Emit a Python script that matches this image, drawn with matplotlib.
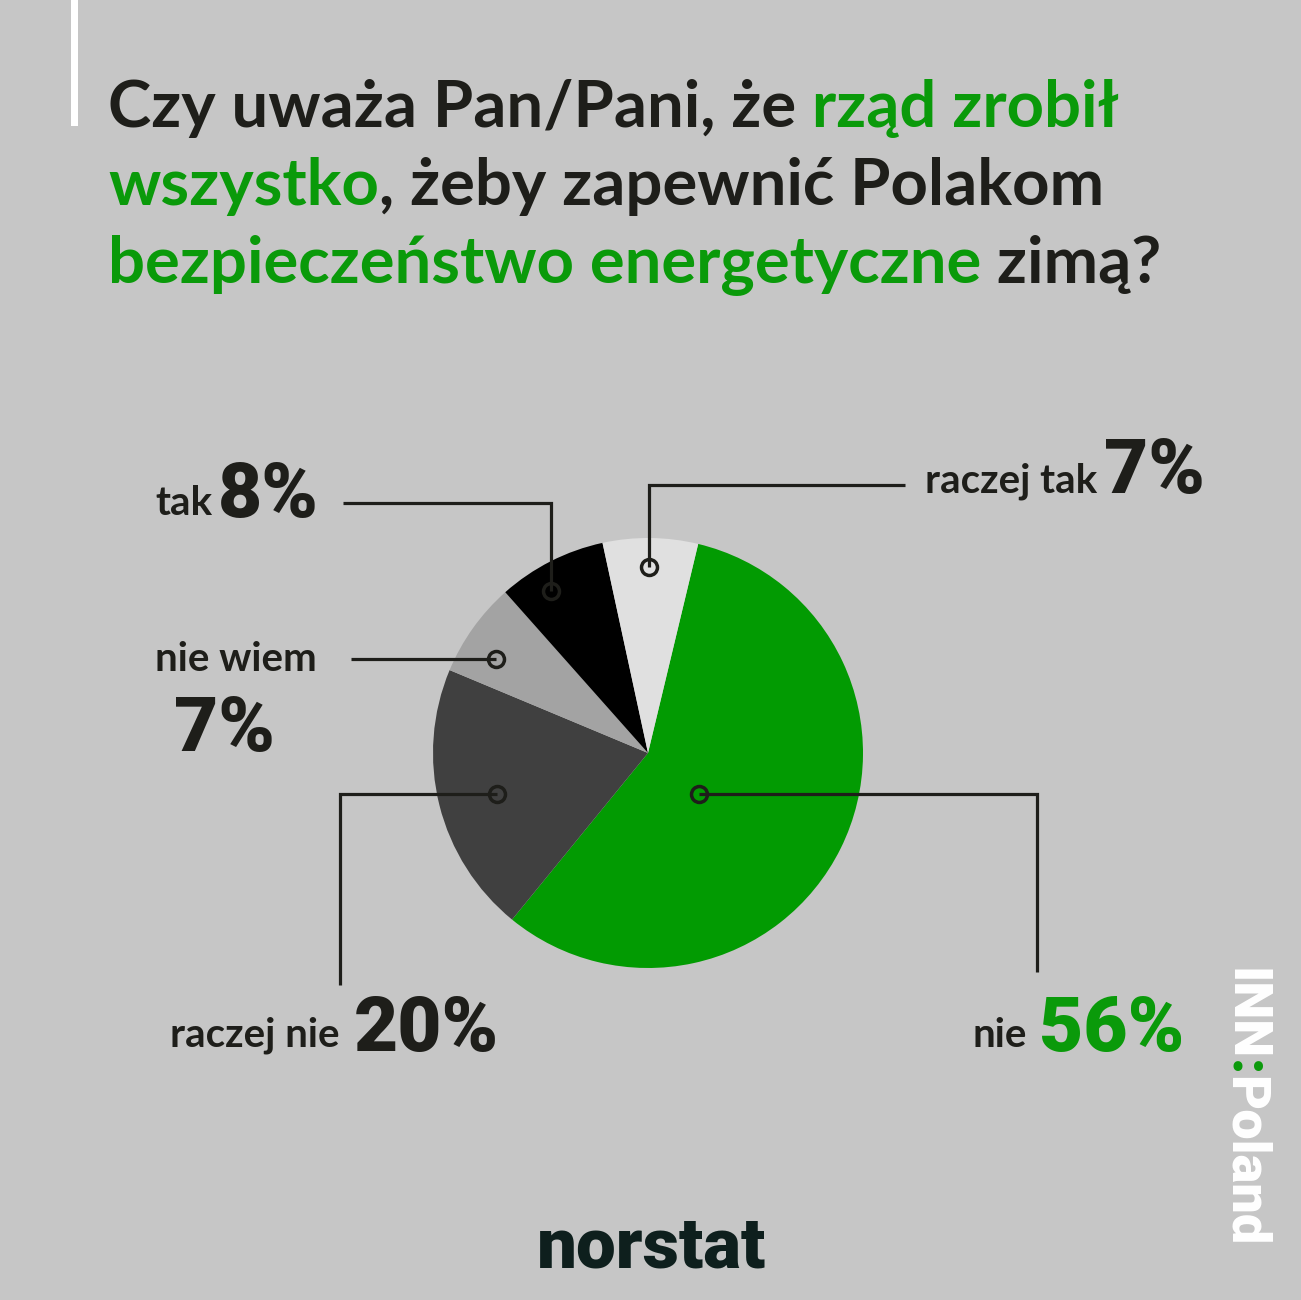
import matplotlib.pyplot as plt

# survey answers, drawn clockwise starting with "nie"
labels = ['nie', 'raczej nie', 'nie wiem', 'tak', 'raczej tak']
values = [56, 20, 7, 8, 7]
colors = ['#029b02', '#404040', '#a3a3a3', '#000000', '#e0e0e0']

BG = '#c6c6c6'
INK = '#1e1e1a'
GREEN = '#0a9a0a'
FONT = ['Lato', 'DejaVu Sans']
HEAVY = ['Roboto', 'DejaVu Sans']

title_lines = [
    [('Czy uważa Pan/Pani, że', INK), (' rząd zrobił', GREEN)],
    [('wszystko', GREEN), (', żeby zapewnić Polakom', INK)],
    [('bezpieczeństwo energetyczne', GREEN), (' zimą?', INK)],
]

fig = plt.figure(figsize=(13.01, 13.0), dpi=100, facecolor=BG)

# pie in its own axes (centre ~ (648, 753) px, radius 215 px)
pax = fig.add_axes([433 / 1301, (1300 - 968) / 1300, 430 / 1301, 430 / 1300])
pax.pie(values, colors=colors, startangle=76.5, counterclock=False,
        radius=1, wedgeprops=dict(linewidth=0))
pax.set_xlim(-1, 1)
pax.set_ylim(-1, 1)
pax.set_aspect('equal')
pax.axis('off')

# overlay axes in pixel units, y pointing down
ax = fig.add_axes([0, 0, 1, 1])
ax.set_xlim(0, 1301)
ax.set_ylim(1300, 0)
ax.axis('off')

renderer = fig.canvas.get_renderer()


def run(x, y, parts, size, weight):
    for s, c in parts:
        t = ax.text(x, y, s, color=c, fontsize=size, fontweight=weight,
                    family=FONT, ha='left', va='baseline')
        x += t.get_window_extent(renderer).width


# white bar top-left
ax.fill_between([71, 78], 0, 126, color='white', lw=0)

for line, base in zip(title_lines, [127, 205, 283]):
    run(108, base, line, 47, 'bold')

# leader lines: (path xs, ys), marker at the first point
leaders = {
    'tak': ([551, 551, 343], [591, 503, 503]),
    'raczej tak': ([649, 649, 905], [567, 485, 485]),
    'nie wiem': ([496, 351], [659, 659]),
    'raczej nie': ([497, 340, 340], [794, 794, 985]),
    'nie': ([699, 1037, 1037], [794, 794, 972]),
}
for name, (xs, ys) in leaders.items():
    ax.plot(xs, ys, color=INK, lw=2.3, solid_capstyle='butt', solid_joinstyle='miter')
    ax.plot(xs[0], ys[0], 'o', ms=11.5, mfc='none', mec=INK, mew=2.5)

small = dict(fontsize=29, fontweight='bold', family=FONT, color=INK, va='baseline')
big = dict(fontsize=55, fontweight='black', family=HEAVY, va='baseline')


def pct(v):
    return f'{v}%'


v = dict(zip(labels, values))
ax.text(212, 515, 'tak', ha='right', **small)
ax.text(218, 517, pct(v['tak']), ha='left', color=INK, **big)

ax.text(1097, 492, 'raczej tak', ha='right', **small)
ax.text(1104, 493, pct(v['raczej tak']), ha='left', color=INK, **big)

ax.text(155, 671, 'nie wiem', ha='left', **small)
ax.text(174, 751, pct(v['nie wiem']), ha='left', color=INK, **big)

ax.text(340, 1047, 'raczej nie', ha='right', **small)
ax.text(354, 1051, pct(v['raczej nie']), ha='left', color=INK, **big)

ax.text(1027, 1047, 'nie', ha='right', **small)
ax.text(1039, 1051, pct(v['nie']), ha='left', color=GREEN, **big)

# logos
ax.text(651, 1268, 'norstat', ha='center', va='baseline', fontsize=51,
        fontweight='black', family=HEAVY, color='#0e1f1d')

y = 968
for s, c in [('INN', 'white'), (':', GREEN), ('Poland', 'white')]:
    t = ax.text(1230, y, s, rotation=-90, rotation_mode='anchor', ha='left',
                va='baseline', fontsize=39, fontweight='black', family=HEAVY, color=c)
    y += t.get_window_extent(renderer).height

fig.savefig('out.png', dpi=100, facecolor=BG)
